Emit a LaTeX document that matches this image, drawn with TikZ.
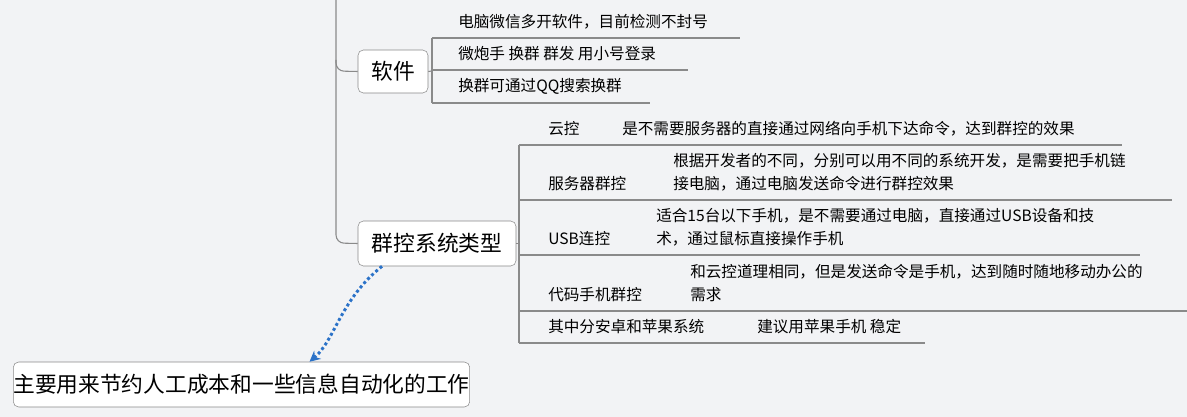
\documentclass[tikz,border=0pt]{standalone}
\usepackage{fontspec}
\setmainfont{Noto Sans CJK SC}
\usetikzlibrary{arrows.meta}
\definecolor{bg}{HTML}{F2F3F5}
\definecolor{ln}{HTML}{8A8A8A}
\definecolor{arr}{HTML}{2B72C8}
\begin{document}
\begin{tikzpicture}[x=0.75pt,y=-0.75pt,
  topic/.style={draw=ln,fill=white,rounded corners=4pt,inner sep=0pt,font=\fontsize{16.3}{18}\selectfont},
  lbl/.style={anchor=west,inner sep=0pt,font=\fontsize{11.7}{17}\selectfont,align=left},
  br/.style={draw=ln,line width=0.8pt}]
\fill[bg] (0,0) rectangle (1187,417);
\useasboundingbox (0,0) rectangle (1187,417);
% topics
\node[topic,minimum width=70*0.75pt,minimum height=43*0.75pt] (sw) at (393,71.5) {软件};
\node[topic,minimum width=158*0.75pt,minimum height=45*0.75pt] (qk) at (437,243.5) {群控系统类型};
\node[topic,minimum width=449*0.75pt,minimum height=45*0.75pt] (main) at (241.5,384.5) {主要用来节约人工成本和一些信息自动化的工作};
% trunk
\coordinate (t0) at (336,0);
\draw[br,rounded corners=6pt] (t0) -- (336,243) -- (qk.west);
\draw[br,rounded corners=6pt] (336,60) -- (336,71) -- (sw.west);
% software branch
\coordinate (s1) at (740,38); \coordinate (s2) at (688,70); \coordinate (s3) at (650,103);
\draw[br] (sw.east) -- (432,71);
\draw[br] (432,38) -- (432,103);
\draw[br] (432,38) -- (s1);
\draw[br] (432,70) -- (s2);
\draw[br] (432,103) -- (s3);
\node[lbl] (a1) at (458,22) {电脑微信多开软件，目前检测不封号};
\node[lbl] (a2) at (458,54) {微炮手 换群 群发 用小号登录};
\node[lbl] (a3) at (458,86) {换群可通过QQ搜索换群};
% group control branch
\draw[br] (qk.east) -- (519,243.5);
\draw[br] (519,145) -- (519,343);
\coordinate (r1) at (1122,145); \coordinate (r2) at (1172,200); \coordinate (r3) at (1140,255);
\coordinate (r4) at (1187,311); \coordinate (r5) at (925,343);
\draw[br] (519,145) -- (r1);
\draw[br] (519,200) -- (r2);
\draw[br] (519,255) -- (r3);
\draw[br] (519,311) -- (r4);
\draw[br] (519,343) -- (r5);
\node[lbl] (b1) at (548,129) {云控};
\node[lbl] (b1d) at (622,129) {是不需要服务器的直接通过网络向手机下达命令，达到群控的效果};
\node[lbl] (b2) at (548,184) {服务器群控};
\node[lbl] (b2d) at (673,172) {根据开发者的不同，分别可以用不同的系统开发，是需要把手机链\\接电脑，通过电脑发送命令进行群控效果};
\node[lbl] (b3) at (548,239) {USB连控};
\node[lbl] (b3d) at (656,227) {适合15台以下手机，是不需要通过电脑，直接通过USB设备和技\\术，通过鼠标直接操作手机};
\node[lbl] (b4) at (548,295) {代码手机群控};
\node[lbl] (b4d) at (690,283) {和云控道理相同，但是发送命令是手机，达到随时随地移动办公的\\需求};
\node[lbl] (b5) at (548,327) {其中分安卓和苹果系统};
\node[lbl] (b5d) at (757,327) {建议用苹果手机 稳定};
% relation arrow
\draw[arr,line width=2.2pt,dotted,-{Stealth[length=8pt,width=8pt]}] ([xshift=-55*0.75pt]qk.south) .. controls (340,300) and (335,340) .. ([xshift=68*0.75pt]main.north);
\end{tikzpicture}
\end{document}
